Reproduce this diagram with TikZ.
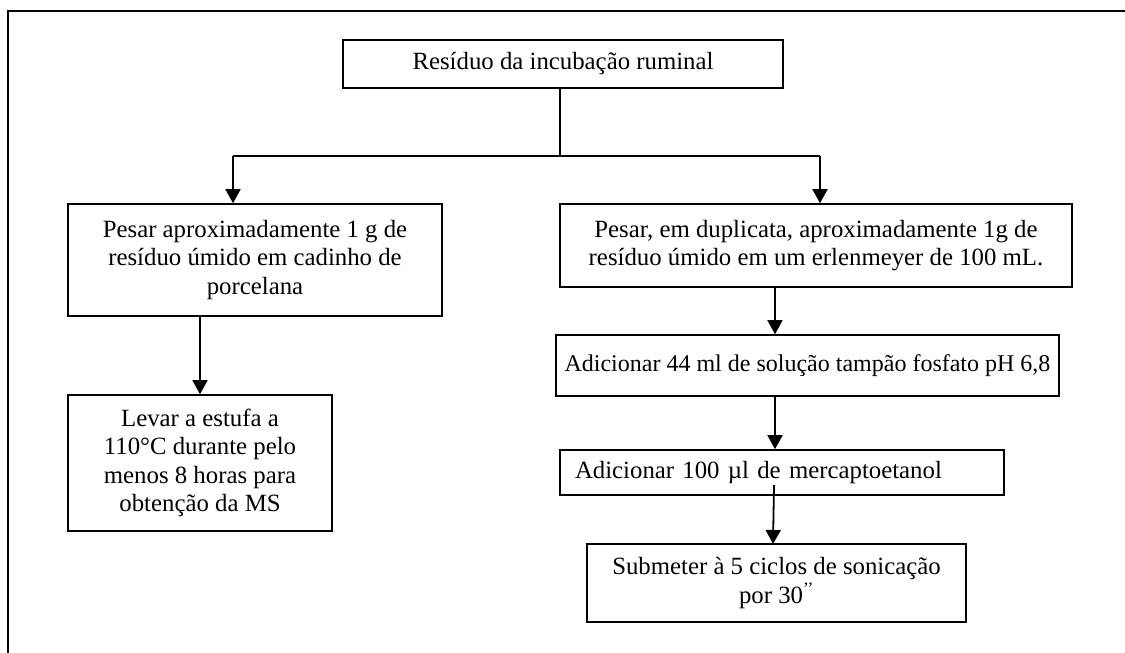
\documentclass[tikz,border=0pt]{standalone}
\usepackage{fontspec}
\setmainfont{Liberation Serif}
\usetikzlibrary{arrows.meta}
\tikzset{
  box/.style={draw, line width=1.6pt, inner sep=0pt, align=center, font=\fontsize{24.8}{28.5}\selectfont},
  conn/.style={line width=1.8pt},
  arr/.style={conn, -{Triangle[width=15pt,length=14pt]}},
  frame/.style={line width=1.8pt}
}
\begin{document}
\begin{tikzpicture}[x=1pt,y=-1pt]
\useasboundingbox (0,0) rectangle (1125,653);
% outer frame (top and left edges visible)
\coordinate (fbl) at (8,653);
\coordinate (ftl) at (8,11);
\coordinate (ftr) at (1125,11);
\draw[frame] (fbl) -- (ftl) -- (ftr);

\node[box, minimum width=440, minimum height=48] (top) at (563,64) {Resíduo da incubação ruminal};

\node[box, minimum width=374, minimum height=112] (l1) at (255,260)
  {Pesar aproximadamente 1 g de\\resíduo úmido em cadinho de\\porcelana};
\node[box, minimum width=264, minimum height=136] (l2) at (200,463)
  {Levar a estufa a\\110°C durante pelo\\menos 8 horas para\\obtenção da MS};

\node[box, minimum width=512, minimum height=83] (r1) at (816,245.5)
  {Pesar, em duplicata, aproximadamente 1g de\\resíduo úmido em um erlenmeyer de 100 mL.};
\node[box, minimum width=503, minimum height=61, font=\fontsize{24}{28.5}\selectfont] (r2) at (807.5,365.5)
  {Adicionar 44 ml de solução tampão fosfato pH 6,8};
\node[box, align=left, text width=414, inner xsep=15, minimum height=45] (r3) at (782,472.5)
  {Adicionar 100 µl de mercaptoetanol};
\node[box, minimum width=379, minimum height=78] (r4) at (776.5,583)
  {Submeter à 5 ciclos de sonicação\\por 30\textsuperscript{’’}};

% connectors
\coordinate (tj) at (560,156);
\coordinate (jl) at (233,156);
\coordinate (jr) at (820,156);
\draw[conn] (top.south -| tj) -- (tj);
\draw[conn] (jl) -- (jr);
\draw[arr] (jl) -- (jl |- l1.north);
\draw[arr] (jr) -- (jr |- r1.north);

\coordinate (lx) at (200,0);
\draw[arr] (l1.south -| lx) -- (l2.north -| lx);

\coordinate (rx) at (775,0);
\draw[arr] (r1.south -| rx) -- (r2.north -| rx);
\draw[arr] (r2.south -| rx) -- (r3.north -| rx);
\coordinate (s3) at (774,485);
\coordinate (e4) at (773,544);
\draw[arr] (s3) -- (e4);
\end{tikzpicture}
\end{document}
